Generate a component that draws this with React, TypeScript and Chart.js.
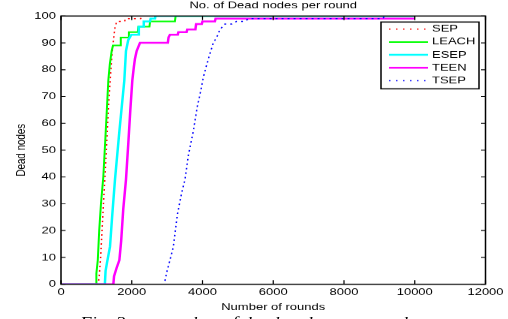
import React, { useEffect, useRef } from "react";
import { Chart, registerables } from "chart.js";

Chart.register(...registerables);

const W = 508;
const H = 425;
const SY = 319 / H;

const titleText = "No. of Dead nodes per round";
const xLabel = "Number of rounds";
const yLabel = "Dead nodes";
const captionFig = "Fig. 3";
const captionText = "number of dead nodes per round";

const seriesLabels = ["SEP", "LEACH", "ESEP", "TEEN", "TSEP"];
const seriesColors = ["#ff0000", "#00ff00", "#00ffff", "#ff00ff", "#0000ff"];

const xMin = 0;
const xMax = 12000;
const xStep = 2000;
const yMin = 0;
const yMax = 100;
const yStep = 10;

const sepRounds = [0, 1050, 1080, 1120, 1160, 1200, 1250, 1300, 1350, 1400, 1450, 1500, 1530, 1580, 1800, 1820, 2250, 2300, 10000];
const sepDead = [0, 0, 3, 10, 20, 30, 42, 55, 68, 78, 87, 93, 96, 98, 98, 99, 99, 100, 100];

const leachRounds = [0, 990, 1000, 1040, 1080, 1130, 1196, 1257, 1300, 1338, 1380, 1433, 1470, 1670, 1690, 1900, 1920, 2170, 2190, 2500, 2520, 3220, 3240, 10000];
const leachDead = [0, 0, 4, 9, 20, 30, 40, 55, 66, 76, 82, 87, 89, 89, 92, 92, 94, 94, 96, 96, 98, 98, 100, 100];

const esepRounds = [0, 1240, 1260, 1300, 1385, 1450, 1526, 1650, 1790, 1837, 1900, 1990, 2180, 2200, 2320, 2340, 2515, 2535, 2657, 2670, 10000];
const esepDead = [0, 0, 5, 8, 14, 26, 39, 57, 76, 87, 91, 93, 93, 96, 96, 98, 98, 99, 99, 100, 100];

const teenRounds = [0, 1480, 1500, 1570, 1650, 1700, 1760, 1837, 1900, 1960, 2016, 2060, 2090, 2140, 2233, 3020, 3040, 3080, 3300, 3320, 3550, 3570, 3800, 3820, 3980, 4000, 4350, 4370, 10000];
const teenDead = [0, 0, 3, 6, 9, 16, 28, 39, 52, 65, 76, 81, 84, 87, 90, 90, 92, 93, 93, 94, 94, 95, 95, 97, 97, 98, 98, 99, 99];

const tsepRounds = [0, 2920, 2950, 3000, 3100, 3175, 3290, 3410, 3505, 3600, 3740, 3850, 3950, 4020, 4165, 4305, 4400, 4495, 4635, 4825, 4965, 5200, 5300, 9100, 9150, 10000];
const tsepDead = [0, 0, 2, 5, 10, 14, 26, 34, 39, 48, 57, 66, 72, 77, 84, 90, 92, 95, 97, 97, 98, 98, 99, 99, 100, 100];

const seriesRounds = [sepRounds, leachRounds, esepRounds, teenRounds, tsepRounds];
const seriesDead = [sepDead, leachDead, esepDead, teenDead, tsepDead];
const seriesWidths = [1.5, 2, 2.5, 2.5, 1.5];
const seriesDashes: number[][] = [[2, 4], [], [], [], [2, 4]];

const FONT = "'Liberation Sans', Arial, Helvetica, sans-serif";

const frameLegendPlugin = {
  id: "frameLegend",
  afterDraw(chart: any) {
    const { ctx, chartArea: a, scales } = chart;
    const xs = scales.x;
    const ys = scales.y;
    ctx.save();
    ctx.strokeStyle = "#000";
    ctx.lineWidth = 1.5;
    ctx.strokeRect(a.left, a.top, a.right - a.left, a.bottom - a.top);
    ctx.lineWidth = 1.2;
    ctx.beginPath();
    xs.ticks.forEach((t: any) => {
      const px = xs.getPixelForValue(t.value);
      ctx.moveTo(px, a.bottom);
      ctx.lineTo(px, a.bottom - 5.5);
      ctx.moveTo(px, a.top);
      ctx.lineTo(px, a.top + 5.5);
    });
    ys.ticks.forEach((t: any) => {
      const py = ys.getPixelForValue(t.value);
      ctx.moveTo(a.left, py);
      ctx.lineTo(a.left + 4.5, py);
      ctx.moveTo(a.right, py);
      ctx.lineTo(a.right - 4.5, py);
    });
    ctx.stroke();

    const bw = 98;
    const bh = 89;
    const bx = a.right - 6.5 - bw;
    const by = a.top + 8;
    ctx.fillStyle = "#fff";
    ctx.fillRect(bx, by, bw, bh);
    ctx.lineWidth = 1.5;
    ctx.strokeStyle = "#000";
    ctx.strokeRect(bx, by, bw, bh);
    chart.data.datasets.forEach((ds: any, i: number) => {
      const y = by + 9.4 + i * 17.2;
      ctx.save();
      ctx.strokeStyle = ds.borderColor;
      ctx.lineWidth = ds.borderWidth;
      ctx.setLineDash(ds.borderDash && ds.borderDash.length ? [1.5, 5.5] : []);
      ctx.beginPath();
      ctx.moveTo(bx + 8, y);
      ctx.lineTo(bx + 47, y);
      ctx.stroke();
      ctx.restore();
      ctx.fillStyle = "#000";
      ctx.font = `13px ${FONT}`;
      ctx.textBaseline = "middle";
      ctx.textAlign = "left";
      ctx.fillText(ds.label, bx + 51, y);
    });
    ctx.restore();
  },
};

export default function App() {
  const ref = useRef<HTMLCanvasElement>(null);

  useEffect(() => {
    if (!ref.current) return;
    Chart.defaults.font.family = FONT;
    Chart.defaults.color = "#000";
    const datasets = seriesLabels.map((label, i) => ({
      label,
      data: seriesRounds[i].map((x, j) => ({ x, y: seriesDead[i][j] })),
      borderColor: seriesColors[i],
      backgroundColor: seriesColors[i],
      borderWidth: seriesWidths[i],
      borderDash: seriesDashes[i],
      pointRadius: 0,
      tension: 0,
      fill: false,
      order: seriesLabels.length - i,
    }));
    const chart = new Chart(ref.current, {
      type: "line",
      data: { datasets },
      options: {
        responsive: false,
        maintainAspectRatio: false,
        animation: false,
        devicePixelRatio: 1,
        layout: { padding: { left: 0, right: 22.5, top: 0, bottom: 0 } },
        plugins: {
          legend: { display: false },
          tooltip: { enabled: false },
          title: {
            display: true,
            text: titleText,
            fullSize: false,
            color: "#000",
            font: { size: 13, weight: "normal" },
            padding: { top: 0, bottom: 5.7 },
          },
        },
        scales: {
          x: {
            type: "linear",
            min: xMin,
            max: xMax,
            ticks: {
              stepSize: xStep,
              font: { size: 13 },
              color: "#000",
              padding: 3,
              maxRotation: 0,
              autoSkip: false,
              callback: (v: any) => String(v),
            },
            grid: { display: false, drawTicks: false },
            border: { display: false },
            title: { display: true, text: xLabel, color: "#000", font: { size: 13 }, padding: { top: 0, bottom: 8 } },
            afterFit: (s: any) => {
              s.height = H - 378.7;
            },
          },
          y: {
            type: "linear",
            min: yMin,
            max: yMax,
            ticks: { stepSize: yStep, font: { size: 13 }, color: "#000", padding: 5, callback: (v: any) => String(v) },
            grid: { display: false, drawTicks: false },
            border: { display: false },
            title: { display: true, text: yLabel, color: "#000", font: { size: 13 }, padding: { top: 14, bottom: 0 } },
            afterFit: (s: any) => {
              s.width = 61;
            },
          },
        },
      } as any,
      plugins: [frameLegendPlugin],
    });
    return () => chart.destroy();
  }, []);

  const capStyle: React.CSSProperties = {
    position: "absolute",
    top: 420,
    fontFamily: "'Liberation Serif', 'DejaVu Serif', serif",
    fontStyle: "italic",
    fontSize: 19,
    lineHeight: "19px",
    whiteSpace: "nowrap",
  };

  return (
    <div
      style={{
        position: "fixed",
        left: 0,
        top: 0,
        width: W,
        height: H,
        background: "#fff",
        transform: `scale(1, ${SY})`,
        transformOrigin: "0 0",
        overflow: "hidden",
      }}
    >
      <canvas ref={ref} width={W} height={H} style={{ display: "block" }} />
      <div style={{ ...capStyle, left: 80 }}>{captionFig}</div>
      <div style={{ ...capStyle, left: 160 }}>{captionText}</div>
    </div>
  );
}
